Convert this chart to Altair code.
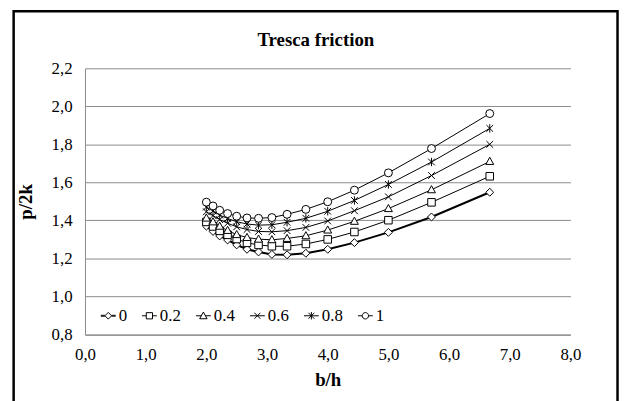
import altair as alt
import pandas as pd

# ---- data ----
b_h = [2.0, 2.11, 2.22, 2.35, 2.5, 2.67, 2.86, 3.08, 3.33, 3.64, 4.0, 4.44, 5.0, 5.71, 6.67]
s_0 = [1.370, 1.342, 1.318, 1.297, 1.271, 1.248, 1.234, 1.221, 1.219, 1.227, 1.248, 1.283, 1.337, 1.418, 1.548]
s_02 = [1.392, 1.368, 1.345, 1.324, 1.302, 1.282, 1.271, 1.264, 1.264, 1.276, 1.300, 1.339, 1.401, 1.495, 1.632]
s_04 = [1.412, 1.392, 1.369, 1.347, 1.325, 1.310, 1.301, 1.298, 1.305, 1.319, 1.349, 1.395, 1.462, 1.561, 1.710]
s_06 = [1.445, 1.425, 1.404, 1.385, 1.366, 1.352, 1.342, 1.340, 1.346, 1.363, 1.397, 1.451, 1.524, 1.636, 1.800]
s_08 = [1.470, 1.450, 1.428, 1.410, 1.393, 1.381, 1.375, 1.377, 1.390, 1.411, 1.448, 1.505, 1.589, 1.707, 1.884]
s_1 = [1.496, 1.476, 1.453, 1.436, 1.422, 1.413, 1.411, 1.415, 1.432, 1.458, 1.498, 1.559, 1.650, 1.778, 1.962]
series_names = ["0", "0.2", "0.4", "0.6", "0.8", "1"]
series_values = [s_0, s_02, s_04, s_06, s_08, s_1]
x_ticks = [0, 1, 2, 3, 4, 5, 6, 7, 8]
y_ticks = [0.8, 1.0, 1.2, 1.4, 1.6, 1.8, 2.0, 2.2]

rows = []
for name, vals in zip(series_names, series_values):
    for xv, yv in zip(b_h, vals):
        rows.append({"series": name, "b_h": xv, "p": yv})
df = pd.DataFrame(rows)

FONT = "Liberation Serif"
GRID = "#8a8a8a"

# marker shapes (hollow, white filled)
mark_paths = [
    "M0,-1L1,0L0,1L-1,0Z",
    "M-0.95,-0.95H0.95V0.95H-0.95Z",
    "M0,-1.05L1,0.75L-1,0.75Z",
    "M-0.85,-0.85L0.85,0.85M-0.85,0.85L0.85,-0.85",
    "M-0.85,-0.85L0.85,0.85M-0.85,0.85L0.85,-0.85M0,-1.05V1.05",
    "circle",
]
# legend symbols: short line with marker
legend_paths = [
    "M-1,-0.06H-0.45M0.45,-0.06H1M-1,0.06H-0.45M0.45,0.06H1M0,-0.45L0.45,0L0,0.45L-0.45,0Z",
    "M-1,0H-0.42M0.42,0H1M-0.42,-0.42H0.42V0.42H-0.42Z",
    "M-1,0H-0.27M0.27,0H1M0,-0.5L0.5,0.4L-0.5,0.4Z",
    "M-1,0H1M-0.4,-0.4L0.4,0.4M-0.4,0.4L0.4,-0.4",
    "M-1,0H1M-0.4,-0.4L0.4,0.4M-0.4,0.4L0.4,-0.4M0,-0.5V0.5",
    "M-1,0H-0.43M0.43,0H1M-0.43,0A0.43,0.43 0 1 1 0.43,0A0.43,0.43 0 1 1 -0.43,0Z",
]

label_expr = "replace(format(datum.value, '.1f'), '.', ',')"

x_axis = alt.Axis(
    values=x_ticks, labelExpr=label_expr, title="b/h", grid=False, ticks=False,
    domainColor=GRID, domainWidth=1, labelFont=FONT, labelFontSize=17, labelColor="black",
    labelPadding=12, labelFlush=False, labelOverlap=False, titleFont=FONT, titleFontSize=19,
    titleFontWeight="bold", titleColor="black", titlePadding=9,
)
y_axis = alt.Axis(
    values=y_ticks, labelExpr=label_expr, title="p/2k", grid=True, gridColor=GRID,
    gridWidth=1, ticks=False, domainColor=GRID, domainWidth=1, labelFont=FONT,
    labelFontSize=17, labelColor="black", labelPadding=13, labelFlush=False,
    labelOverlap=False, tickCount=8, titleFont=FONT, titleFontSize=19,
    titleFontWeight="bold", titleColor="black", titlePadding=16,
)

x_scale = alt.Scale(domain=[0, 8], nice=False, zero=False)
y_scale = alt.Scale(domain=[0.8, 2.2], nice=False, zero=False)

frame = alt.Chart(pd.DataFrame({"a": [0]})).mark_rect(
    fillOpacity=0, stroke="black", strokeWidth=2.5
).encode(
    x=alt.value(-72), x2=alt.value(537.5), y=alt.value(-57.5), y2=alt.value(345)
)

lines = alt.Chart(df).mark_line(color="black").encode(
    x=alt.X("b_h:Q", scale=x_scale, axis=x_axis),
    y=alt.Y("p:Q", scale=y_scale, axis=y_axis),
    detail="series:N",
    strokeWidth=alt.condition(alt.datum.series == "0", alt.value(2), alt.value(1)),
)

points = alt.Chart(df).mark_point(
    filled=True, fill="white", stroke="black", strokeWidth=1, opacity=1, size=64
).encode(
    x=alt.X("b_h:Q", scale=x_scale, axis=x_axis),
    y=alt.Y("p:Q", scale=y_scale, axis=y_axis),
    shape=alt.Shape("series:N", scale=alt.Scale(domain=series_names, range=mark_paths), legend=None),
)

legend_layer = alt.Chart(df).transform_filter("false").mark_point(
    filled=False, stroke="black", color="black", strokeWidth=1, opacity=1, size=225
).encode(
    shape=alt.Shape(
        "series:N",
        scale=alt.Scale(domain=series_names, range=legend_paths),
        legend=alt.Legend(
            title=None, orient="none", legendX=15, legendY=241, direction="horizontal",
            symbolSize=225, symbolStrokeWidth=1, symbolStrokeColor="black",
            labelFont=FONT, labelFontSize=17, labelColor="black",
            labelOffset=2, columnPadding=12.5, padding=0,
        ),
    )
)

chart = alt.layer(frame, lines, points, legend_layer).resolve_scale(
    shape="independent"
).properties(
    width=490,
    height=268.6,
    padding={"left": 3.7, "top": 0, "right": 0, "bottom": 0},
    title=alt.Title(
        "Tresca friction", font=FONT, fontSize=19, fontWeight="bold", color="black",
        anchor="middle", frame="group", offset=-40, dx=-12,
    ),
).configure_view(strokeWidth=0)

chart.save("out.html", embed_options={"renderer": "svg", "actions": False})
